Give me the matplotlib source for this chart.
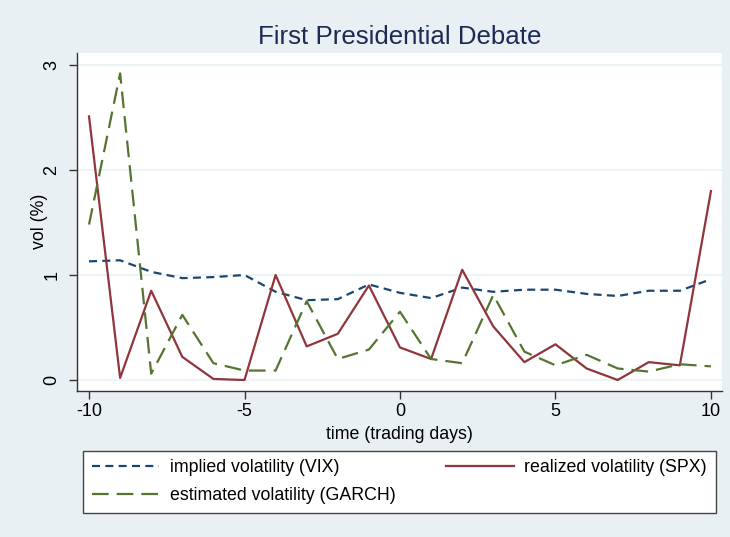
import matplotlib.pyplot as plt
import numpy as np

plt.rcParams['font.family'] = ['Liberation Sans', 'DejaVu Sans']
plt.rcParams['axes.unicode_minus'] = False

# trading days around the debate
days = list(range(-10, 11))

vix = [1.13, 1.14, 1.03, 0.97, 0.98, 1.00, 0.84, 0.76, 0.77, 0.91, 0.83,
       0.78, 0.88, 0.84, 0.86, 0.86, 0.82, 0.80, 0.85, 0.85, 0.96]
spx = [2.51, 0.02, 0.85, 0.22, 0.01, 0.00, 1.00, 0.32, 0.44, 0.90, 0.31,
       0.20, 1.05, 0.51, 0.17, 0.34, 0.11, 0.00, 0.17, 0.14, 1.80]
garch = [1.48, 2.92, 0.06, 0.62, 0.16, 0.09, 0.09, 0.75, 0.20, 0.29, 0.65,
         0.20, 0.16, 0.81, 0.27, 0.14, 0.24, 0.11, 0.08, 0.15, 0.13]

navy = '#1a476f'
maroon = '#90353b'
green = '#55752f'
bg = '#e9f0f3'

fig = plt.figure(figsize=(7.3, 5.37), dpi=100, facecolor=bg)
ax = fig.add_axes([0.1055, 0.2728, 0.8835, 0.6291])
ax.set_facecolor('white')

l1, = ax.plot(days, vix, color=navy, lw=1.6, linestyle=(0, (3.6, 2.4)),
              label='implied volatility (VIX)')
l2, = ax.plot(days, spx, color=maroon, lw=1.6, label='realized volatility (SPX)')
l3, = ax.plot(days, garch, color=green, lw=1.6, linestyle=(0, (7.5, 3.6)),
              label='estimated volatility (GARCH)')

ax.set_xlim(-10.386, 10.354)
ax.set_ylim(-0.1, 3.117)
ax.set_xticks([-10, -5, 0, 5, 10])
ax.set_yticks([0, 1, 2, 3])
ax.set_yticklabels(['0', '1', '2', '3'], rotation=90, va='center')
ax.grid(axis='y', color='#eaf2f3', lw=1.2)
ax.set_axisbelow(True)

for s in ['top', 'right']:
    ax.spines[s].set_visible(False)
for s in ['left', 'bottom']:
    ax.spines[s].set_color('#333333')
    ax.spines[s].set_linewidth(1.0)
ax.tick_params(direction='out', length=6, width=1, color='#333333',
               labelsize=13, pad=3)
ax.tick_params(axis='y', pad=6)

ax.set_xlabel('time (trading days)', fontsize=12.8, labelpad=4)
ax.set_ylabel('vol (%)', fontsize=12.8, labelpad=-3)

fig.text(0.547, 0.931, 'First Presidential Debate', ha='center', va='center',
         fontsize=18.6, color='#1c2b55')

leg = fig.legend(handles=[l1, l3, l2], ncol=2, loc='center',
                 bbox_to_anchor=(0.1137, 0.0447, 0.867, 0.1155), mode='expand',
                 fancybox=False, edgecolor='#444444', framealpha=1,
                 fontsize=12.8, handlelength=3.8, handletextpad=0.6,
                 labelspacing=0.62, borderpad=0.5, borderaxespad=0,
                 columnspacing=2)
leg.get_frame().set_linewidth(1.0)

fig.savefig('out.png', dpi=100, facecolor=bg)
